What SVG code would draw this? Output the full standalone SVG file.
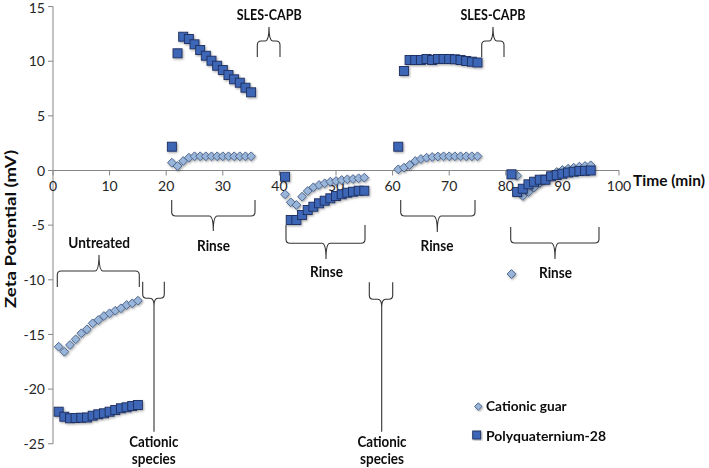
<svg xmlns="http://www.w3.org/2000/svg" xmlns:xlink="http://www.w3.org/1999/xlink" width="709" height="468" viewBox="0 0 709 468">
<style>
.ax{stroke:#868686;stroke-width:1;fill:none}
.tk{font-family:Lato,"Liberation Sans",sans-serif;font-size:14px;fill:#262626}
.lb{font-family:Lato,"Liberation Sans",sans-serif;font-weight:bold;fill:#0d0d0d}
.br{stroke:#333;stroke-width:1.1;fill:none}
.sqm{fill:#3e66b6;stroke:#1d2f5e;stroke-width:0.9}
.dmm{fill:#9ab5da;stroke:#455f86;stroke-width:0.9}
</style>
<defs>
<rect id="sq" x="-4.5" y="-4.5" width="9" height="9" class="sqm"/>
<path id="dm" d="M0,-4.4 L4.4,0 L0,4.4 L-4.4,0 Z" class="dmm"/>
<filter id="sh" x="-20%" y="-20%" width="140%" height="140%"><feDropShadow dx="1" dy="1.2" stdDeviation="0.8" flood-color="#000" flood-opacity="0.35"/></filter>
</defs>
<rect width="709" height="468" fill="#fff"/>
<g id="axes">
<path class="ax" d="M53,6.5 V443.75 M53,170.5 H619"/>
<path class="ax" d="M48,6.55 H53 M48,61.2 H53 M48,115.85 H53 M48,170.5 H53 M48,225.15 H53 M48,279.8 H53 M48,334.45 H53 M48,389.1 H53 M48,443.75 H53"/>
<path class="ax" d="M53,170.5 V175.5 M109.6,170.5 V175.5 M166.2,170.5 V175.5 M222.8,170.5 V175.5 M279.4,170.5 V175.5 M336,170.5 V175.5 M392.6,170.5 V175.5 M449.2,170.5 V175.5 M505.8,170.5 V175.5 M562.4,170.5 V175.5 M619,170.5 V175.5"/>
<g class="tk" text-anchor="end">
<text x="45" y="13">15</text>
<text x="45" y="66.2">10</text>
<text x="45" y="120.9">5</text>
<text x="45" y="175.5">0</text>
<text x="45" y="230.2">-5</text>
<text x="45" y="284.8">-10</text>
<text x="45" y="339.5">-15</text>
<text x="45" y="394.1">-20</text>
<text x="45" y="448.8">-25</text>
</g>
<g class="tk" text-anchor="middle">
<text x="53" y="191">0</text>
<text x="109.6" y="191">10</text>
<text x="166.2" y="191">20</text>
<text x="222.8" y="191">30</text>
<text x="279.4" y="191">40</text>
<text x="336" y="191">50</text>
<text x="392.6" y="191">60</text>
<text x="449.2" y="191">70</text>
<text x="505.8" y="191">80</text>
<text x="562.4" y="191">90</text>
<text x="619" y="191">100</text>
</g>
<text class="lb" font-size="15.5" x="633" y="186" textLength="72" lengthAdjust="spacingAndGlyphs">Time (min)</text>
<text class="lb" font-size="16" text-anchor="middle" transform="translate(16,229) rotate(-90)" textLength="158" lengthAdjust="spacingAndGlyphs">Zeta Potential (mV)</text>
</g>
<g id="series-cationic-guar" filter="url(#sh)">
<use href="#dm" x="58.66" y="346.7"/><use href="#dm" x="64.32" y="351.7"/><use href="#dm" x="69.98" y="345"/><use href="#dm" x="75.64" y="339.3"/><use href="#dm" x="81.3" y="333.3"/><use href="#dm" x="86.96" y="329.3"/><use href="#dm" x="92.62" y="323.3"/><use href="#dm" x="98.28" y="320"/><use href="#dm" x="103.94" y="316"/><use href="#dm" x="109.6" y="313.3"/><use href="#dm" x="115.26" y="310.7"/><use href="#dm" x="120.92" y="308.3"/><use href="#dm" x="126.58" y="305"/><use href="#dm" x="132.24" y="303.3"/><use href="#dm" x="137.9" y="300.7"/>
<use href="#dm" x="171.86" y="162.7"/><use href="#dm" x="177.52" y="166"/><use href="#dm" x="183.18" y="161"/><use href="#dm" x="188.84" y="157.7"/><use href="#dm" x="194.5" y="156.3"/><use href="#dm" x="200.16" y="156.3"/><use href="#dm" x="205.82" y="156.3"/><use href="#dm" x="211.48" y="156.3"/><use href="#dm" x="217.14" y="156.3"/><use href="#dm" x="222.8" y="156.3"/><use href="#dm" x="228.46" y="156.3"/><use href="#dm" x="234.12" y="156.3"/><use href="#dm" x="239.78" y="156.3"/><use href="#dm" x="245.44" y="156.3"/><use href="#dm" x="251.1" y="156.3"/>
<use href="#dm" x="285.06" y="194.3"/><use href="#dm" x="290.72" y="202.3"/><use href="#dm" x="296.38" y="205"/><use href="#dm" x="302.04" y="196.7"/><use href="#dm" x="307.7" y="191"/><use href="#dm" x="313.36" y="187.3"/><use href="#dm" x="319.02" y="185"/><use href="#dm" x="324.68" y="183.3"/><use href="#dm" x="330.34" y="181.7"/><use href="#dm" x="336" y="181"/><use href="#dm" x="341.66" y="180"/><use href="#dm" x="347.32" y="179.3"/><use href="#dm" x="352.98" y="179"/><use href="#dm" x="358.64" y="178.3"/><use href="#dm" x="364.3" y="177.7"/>
<use href="#dm" x="398.26" y="169.3"/><use href="#dm" x="403.92" y="167.7"/><use href="#dm" x="409.58" y="165"/><use href="#dm" x="415.24" y="161"/><use href="#dm" x="420.9" y="159"/><use href="#dm" x="426.56" y="157.7"/><use href="#dm" x="432.22" y="157"/><use href="#dm" x="437.88" y="156.5"/><use href="#dm" x="443.54" y="156.3"/><use href="#dm" x="449.2" y="156.3"/><use href="#dm" x="454.86" y="156.3"/><use href="#dm" x="460.52" y="156.3"/><use href="#dm" x="466.18" y="156.3"/><use href="#dm" x="471.84" y="156.3"/><use href="#dm" x="477.5" y="156.3"/>
<use href="#dm" x="511.46" y="274"/><use href="#dm" x="517.12" y="175.7"/><use href="#dm" x="522.78" y="196"/><use href="#dm" x="528.44" y="192"/><use href="#dm" x="534.1" y="187.5"/><use href="#dm" x="539.76" y="183"/><use href="#dm" x="545.42" y="179"/><use href="#dm" x="551.08" y="175.5"/><use href="#dm" x="556.74" y="172"/><use href="#dm" x="562.4" y="170"/><use href="#dm" x="568.06" y="168.7"/><use href="#dm" x="573.72" y="167.7"/><use href="#dm" x="579.38" y="166.7"/><use href="#dm" x="585.04" y="166"/><use href="#dm" x="590.7" y="165.3"/>
</g>
<g id="series-polyquaternium-28" filter="url(#sh)">
<use href="#sq" x="58.66" y="411.7"/><use href="#sq" x="64.32" y="416.7"/><use href="#sq" x="69.98" y="418.3"/><use href="#sq" x="75.64" y="418"/><use href="#sq" x="81.3" y="417.7"/><use href="#sq" x="86.96" y="417.5"/><use href="#sq" x="92.62" y="415.7"/><use href="#sq" x="98.28" y="414.3"/><use href="#sq" x="103.94" y="413.3"/><use href="#sq" x="109.6" y="411.7"/><use href="#sq" x="115.26" y="410"/><use href="#sq" x="120.92" y="408.3"/><use href="#sq" x="126.58" y="407.3"/><use href="#sq" x="132.24" y="406"/><use href="#sq" x="137.9" y="405"/>
<use href="#sq" x="171.86" y="146.7"/><use href="#sq" x="177.52" y="53.3"/><use href="#sq" x="183.18" y="36.7"/><use href="#sq" x="188.84" y="39"/><use href="#sq" x="194.5" y="44.3"/><use href="#sq" x="200.16" y="50"/><use href="#sq" x="205.82" y="55.7"/><use href="#sq" x="211.48" y="60.7"/><use href="#sq" x="217.14" y="65.7"/><use href="#sq" x="222.8" y="70"/><use href="#sq" x="228.46" y="75"/><use href="#sq" x="234.12" y="79.3"/><use href="#sq" x="239.78" y="82.7"/><use href="#sq" x="245.44" y="87.7"/><use href="#sq" x="251.1" y="92.3"/>
<use href="#sq" x="285.06" y="176.7"/><use href="#sq" x="290.72" y="220"/><use href="#sq" x="296.38" y="220"/><use href="#sq" x="302.04" y="215"/><use href="#sq" x="307.7" y="210"/><use href="#sq" x="313.36" y="206.7"/><use href="#sq" x="319.02" y="203.3"/><use href="#sq" x="324.68" y="200.7"/><use href="#sq" x="330.34" y="198.3"/><use href="#sq" x="336" y="196"/><use href="#sq" x="341.66" y="194.3"/><use href="#sq" x="347.32" y="192.7"/><use href="#sq" x="352.98" y="191.7"/><use href="#sq" x="358.64" y="190.7"/><use href="#sq" x="364.3" y="190.7"/>
<use href="#sq" x="398.26" y="146.7"/><use href="#sq" x="403.92" y="71"/><use href="#sq" x="409.58" y="60"/><use href="#sq" x="415.24" y="60"/><use href="#sq" x="420.9" y="60"/><use href="#sq" x="426.56" y="59"/><use href="#sq" x="432.22" y="60"/><use href="#sq" x="437.88" y="59"/><use href="#sq" x="443.54" y="59"/><use href="#sq" x="449.2" y="59"/><use href="#sq" x="454.86" y="59.3"/><use href="#sq" x="460.52" y="60"/><use href="#sq" x="466.18" y="61"/><use href="#sq" x="471.84" y="61.7"/><use href="#sq" x="477.5" y="62.5"/>
<use href="#sq" x="511.46" y="174.3"/><use href="#sq" x="517.12" y="192"/><use href="#sq" x="522.78" y="188.7"/><use href="#sq" x="528.44" y="184.3"/><use href="#sq" x="534.1" y="181.7"/><use href="#sq" x="539.76" y="179.7"/><use href="#sq" x="545.42" y="179.7"/><use href="#sq" x="551.08" y="176.3"/><use href="#sq" x="556.74" y="175"/><use href="#sq" x="562.4" y="173.7"/><use href="#sq" x="568.06" y="172.5"/><use href="#sq" x="573.72" y="171.7"/><use href="#sq" x="579.38" y="171"/><use href="#sq" x="585.04" y="170.8"/><use href="#sq" x="590.7" y="170.5"/>
</g>
<g id="connectors">
<path class="br" d="M257.3,57 V45 Q257.3,41 261.3,41 H265 Q269,41 269,27 Q269,41 273,41 H276 Q280,41 280,45 V57"/>
<path class="br" d="M481.7,57 V45 Q481.7,41 485.7,41 H489 Q493,41 493,27 Q493,41 497,41 H500 Q504,41 504,45 V57"/>
<path class="br" d="M57.3,287 V275 Q57.3,271 61.3,271 H95 Q99,271 99,255 Q99,271 103,271 H135.3 Q139.3,271 139.3,275 V287"/>
<path class="br" d="M171.7,200 V212 Q171.7,216 175.7,216 H209.3 Q213.3,216 213.3,231 Q213.3,216 217.3,216 H251 Q255,216 255,212 V200"/>
<path class="br" d="M286,225 V239.3 Q286,243.3 290,243.3 H322 Q326,243.3 326,259 Q326,243.3 330,243.3 H361 Q365,243.3 365,239.3 V225"/>
<path class="br" d="M400.7,200 V212 Q400.7,216 404.7,216 H433.3 Q437.3,216 437.3,232 Q437.3,216 441.3,216 H471 Q475,216 475,212 V200"/>
<path class="br" d="M510.7,227 V239 Q510.7,243 514.7,243 H551 Q555,243 555,259 Q555,243 559,243 H595 Q599,243 599,239 V227"/>
<path class="br" d="M142.7,281.7 V294.3 Q142.7,298.3 146.7,298.3 H150 Q154,298.3 154,306 V431.7 M154,306 Q154,298.3 158,298.3 H160.3 Q164.3,298.3 164.3,294.3 V281.7"/>
<path class="br" d="M369.3,282.3 V295.3 Q369.3,299.3 373.3,299.3 H377.7 Q381.7,299.3 381.7,307 V431.7 M381.7,307 Q381.7,299.3 385.7,299.3 H388.7 Q392.7,299.3 392.7,295.3 V282.3"/>
</g>
<g id="labels" class="lb" font-size="15" text-anchor="middle">
<text x="269.2" y="20" textLength="65" lengthAdjust="spacingAndGlyphs">SLES-CAPB</text>
<text x="493" y="20" textLength="65" lengthAdjust="spacingAndGlyphs">SLES-CAPB</text>
<text x="213.5" y="251" textLength="33" lengthAdjust="spacingAndGlyphs">Rinse</text>
<text x="326.5" y="277" textLength="33" lengthAdjust="spacingAndGlyphs">Rinse</text>
<text x="437" y="251" textLength="33" lengthAdjust="spacingAndGlyphs">Rinse</text>
<text x="555.5" y="278" textLength="33" lengthAdjust="spacingAndGlyphs">Rinse</text>
<text x="99.2" y="247.5" textLength="61.7" lengthAdjust="spacingAndGlyphs">Untreated</text>
<text x="153.8" y="447" textLength="49" lengthAdjust="spacingAndGlyphs">Cationic</text>
<text x="153.8" y="463.5" textLength="44" lengthAdjust="spacingAndGlyphs">species</text>
<text x="382" y="447" textLength="49" lengthAdjust="spacingAndGlyphs">Cationic</text>
<text x="382" y="463.5" textLength="44" lengthAdjust="spacingAndGlyphs">species</text>
</g>
<g id="legend">
<path d="M478.3,402.8 L482,406.5 L478.3,410.2 L474.6,406.5 Z" class="dmm" filter="url(#sh)"/>
<rect x="472.7" y="431" width="8" height="8" class="sqm" filter="url(#sh)"/>
<text class="lb" font-size="14" x="486" y="411" textLength="80.7" lengthAdjust="spacingAndGlyphs">Cationic guar</text>
<text class="lb" font-size="14" x="486" y="440.5" textLength="120" lengthAdjust="spacingAndGlyphs">Polyquaternium-28</text>
</g>
</svg>
